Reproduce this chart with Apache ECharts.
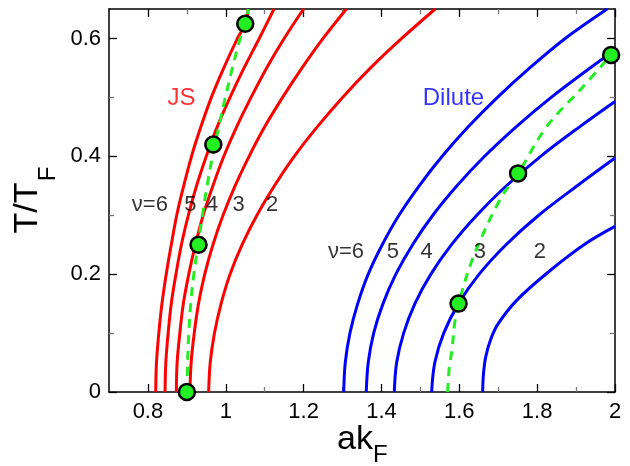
<!DOCTYPE html>
<html>
<head>
<meta charset="utf-8">
<script src="https://cdn.jsdelivr.net/npm/echarts@6/dist/echarts.min.js"></script>
<style>
html,body{margin:0;padding:0;background:#fff;}
#chart{width:630px;height:466px;}
</style>
</head>
<body>
<div id="chart"></div>
<script>
// ---- axis ticks ----
const xMajor = [0.8, 1, 1.2, 1.4, 1.6, 1.8, 2];
const xMinor = [0.9, 1.1, 1.3, 1.5, 1.7, 1.9];
const yMajor = [0, 0.2, 0.4, 0.6];
const yMinor = [0.1, 0.3, 0.5];

// ---- JS (red) curves: [ak_F, T/T_F] ----
const jsNu6 = [[0.820,0],[0.822,0.05],[0.828,0.1],[0.836,0.15],[0.847,0.2],[0.860,0.25],[0.874,0.3],[0.892,0.35],[0.912,0.4],[0.936,0.45],[0.963,0.5],[0.995,0.55],[1.030,0.6],[1.050,0.625],[1.058,0.65]];
const jsNu5 = [[0.844,0],[0.846,0.05],[0.852,0.1],[0.860,0.15],[0.872,0.2],[0.886,0.25],[0.904,0.3],[0.925,0.35],[0.950,0.4],[0.978,0.45],[1.011,0.5],[1.047,0.55],[1.086,0.6],[1.124,0.65]];
const jsNu4 = [[0.873,0],[0.875,0.05],[0.882,0.1],[0.891,0.15],[0.905,0.2],[0.922,0.25],[0.942,0.3],[0.967,0.35],[0.995,0.4],[1.028,0.45],[1.065,0.5],[1.105,0.55],[1.150,0.6],[1.200,0.65]];
const jsNu3 = [[0.908,0],[0.911,0.05],[0.919,0.1],[0.930,0.15],[0.946,0.2],[0.967,0.25],[0.993,0.3],[1.024,0.35],[1.060,0.4],[1.100,0.45],[1.146,0.5],[1.196,0.55],[1.250,0.6],[1.310,0.65]];
const jsNu2 = [[0.956,0],[0.960,0.05],[0.971,0.1],[0.988,0.15],[1.011,0.2],[1.042,0.25],[1.080,0.3],[1.125,0.35],[1.176,0.4],[1.235,0.45],[1.300,0.5],[1.372,0.55],[1.452,0.6],[1.538,0.65]];

// ---- Dilute (blue) curves ----
const diNu6 = [[1.303,0],[1.307,0.05],[1.319,0.1],[1.339,0.15],[1.366,0.2],[1.402,0.25],[1.445,0.3],[1.497,0.35],[1.556,0.4],[1.623,0.45],[1.698,0.5],[1.781,0.55],[1.872,0.6],[1.980,0.65]];
const diNu5 = [[1.361,0],[1.366,0.05],[1.380,0.1],[1.404,0.15],[1.437,0.2],[1.480,0.25],[1.532,0.3],[1.594,0.35],[1.665,0.4],[1.746,0.45],[1.836,0.5],[1.936,0.55],[2.0,0.58]];
const diNu4 = [[1.433,0],[1.439,0.05],[1.457,0.1],[1.486,0.15],[1.527,0.2],[1.580,0.25],[1.645,0.3],[1.721,0.35],[1.809,0.4],[1.909,0.45],[2.0,0.493]];
const diNu3 = [[1.529,0],[1.537,0.05],[1.560,0.1],[1.598,0.15],[1.651,0.2],[1.720,0.25],[1.804,0.3],[1.903,0.35],[2.0,0.397]];
const diNu2 = [[1.660,0],[1.662,0.03],[1.668,0.06],[1.681,0.09],[1.700,0.116],[1.748,0.156],[1.835,0.207],[1.925,0.252],[2.0,0.281]];

// ---- critical lines (green dashed) and points ----
const jsCrit = [[0.900,0],[0.902,0.05],[0.905,0.1],[0.910,0.15],[0.918,0.2],[0.929,0.25],[0.940,0.3],[0.952,0.35],[0.966,0.4],[0.982,0.45],[0.999,0.5],[1.017,0.55],[1.037,0.6],[1.050,0.625],[1.058,0.65]];
const diCrit = [[1.570,0],[1.574,0.04],[1.581,0.071],[1.589,0.122],[1.598,0.15],[1.636,0.229],[1.704,0.326],[1.751,0.371],[1.824,0.45],[1.918,0.518],[1.990,0.572]];
const critPoints = [[0.900,0],[0.930,0.25],[0.968,0.42],[1.050,0.625],[1.598,0.15],[1.751,0.371],[1.990,0.572]];

// ---- annotation labels ----
const jsNuLabels = [['ν=6',0.805,0.317],['5',0.909,0.317],['4',0.965,0.317],['3',1.033,0.317],['2',1.119,0.317]];
const diNuLabels = [['ν=6',1.309,0.238],['5',1.429,0.238],['4',1.516,0.238],['3',1.653,0.238],['2',1.807,0.238]];
const groupLabels = [['JS',0.886,0.498,'#ff0000'],['Dilute',1.585,0.498,'#0000ff']];

const RED = '#ff0000', BLUE = '#0000ff', GREEN = '#22ee22';
const FONT = 'Liberation Sans, Arial, sans-serif';

function curve(data, color) {
  return {type:'line', data:data, smooth:0.35, symbol:'none', xAxisIndex:0, yAxisIndex:0,
    lineStyle:{color:color, width:3}, z:3, silent:true};
}
function dashed(data) {
  return {type:'line', data:data, smooth:0.35, symbol:'none', xAxisIndex:0, yAxisIndex:0,
    lineStyle:{color:GREEN, width:3, type:[9,7]}, z:4, silent:true};
}
function textSeries(list, color, size) {
  return {type:'scatter', symbolSize:0, xAxisIndex:0, yAxisIndex:0, z:6, silent:true,
    itemStyle:{color:'transparent'},
    data:list.map(l => ({value:[l[1], l[2]], name:l[0], label:{color:l[3] || color}})),
    label:{show:true, position:'inside', formatter:p => p.name, fontSize:size, fontFamily:FONT,
      color:color, textBorderWidth:0, textShadowBlur:0}};
}

function xAx(pos, ticks, len, color, showLabel, showLine) {
  return {type:'value', position:pos, min:0.7, max:2,
    axisLine:{show:showLine, onZero:false, lineStyle:{color:'#000', width:1.5}},
    axisTick:{show:true, inside:true, length:len, customValues:ticks, lineStyle:{color:color, width:1.3}},
    axisLabel:{show:showLabel, customValues:xMajor, fontSize:22, fontFamily:FONT, color:'#000', margin:9},
    splitLine:{show:false}};
}
function yAx(pos, ticks, len, color, showLabel, showLine) {
  return {type:'value', position:pos, min:0, max:0.65,
    axisLine:{show:showLine, onZero:false, lineStyle:{color:'#000', width:1.5}},
    axisTick:{show:true, inside:true, length:len, customValues:ticks, lineStyle:{color:color, width:1.3}},
    axisLabel:{show:showLabel, customValues:yMajor, fontSize:22, fontFamily:FONT, color:'#000', margin:8},
    splitLine:{show:false}};
}

const chart = echarts.init(document.getElementById('chart'));
chart.setOption({
  animation:false,
  backgroundColor:'#fff',
  grid:{left:109, right:15, top:9, bottom:74, show:false, containLabel:false},
  xAxis:[
    xAx('bottom', xMajor, 8, '#000', true, true),
    xAx('bottom', xMinor, 5, '#777', false, false),
    xAx('top', xMajor, 8, '#000', false, true),
    xAx('top', xMinor, 5, '#777', false, false)
  ],
  yAxis:[
    yAx('left', yMajor, 8, '#000', true, true),
    yAx('left', yMinor, 5, '#777', false, false),
    yAx('right', yMajor, 8, '#000', false, true),
    yAx('right', yMinor, 5, '#777', false, false)
  ],
  series:[
    curve(jsNu6, RED), curve(jsNu5, RED), curve(jsNu4, RED), curve(jsNu3, RED), curve(jsNu2, RED),
    curve(diNu6, BLUE), curve(diNu5, BLUE), curve(diNu4, BLUE), curve(diNu3, BLUE), curve(diNu2, BLUE),
    dashed(jsCrit), dashed(diCrit),
    {type:'scatter', data:critPoints, symbol:'circle', symbolSize:16, clip:false, z:8, silent:true,
      itemStyle:{color:GREEN, borderColor:'#000', borderWidth:2.5, opacity:1}},
    textSeries(jsNuLabels, '#000', 22),
    textSeries(diNuLabels, '#000', 22),
    textSeries(groupLabels, '#000', 24)
  ],
  graphic:[
    {type:'text', x:337, y:440, style:{text:'ak', font:'34px ' + FONT, fill:'#000', align:'left', verticalAlign:'middle'}},
    {type:'text', x:373, y:455, style:{text:'F', font:'24px ' + FONT, fill:'#000', align:'left', verticalAlign:'middle'}},
    {type:'text', x:28, y:208, rotation:Math.PI/2, style:{text:'T/T', font:'34px ' + FONT, fill:'#000', align:'center', verticalAlign:'middle'}},
    {type:'text', x:48, y:174, rotation:Math.PI/2, style:{text:'F', font:'24px ' + FONT, fill:'#000', align:'center', verticalAlign:'middle'}}
  ]
});
</script>
</body>
</html>
